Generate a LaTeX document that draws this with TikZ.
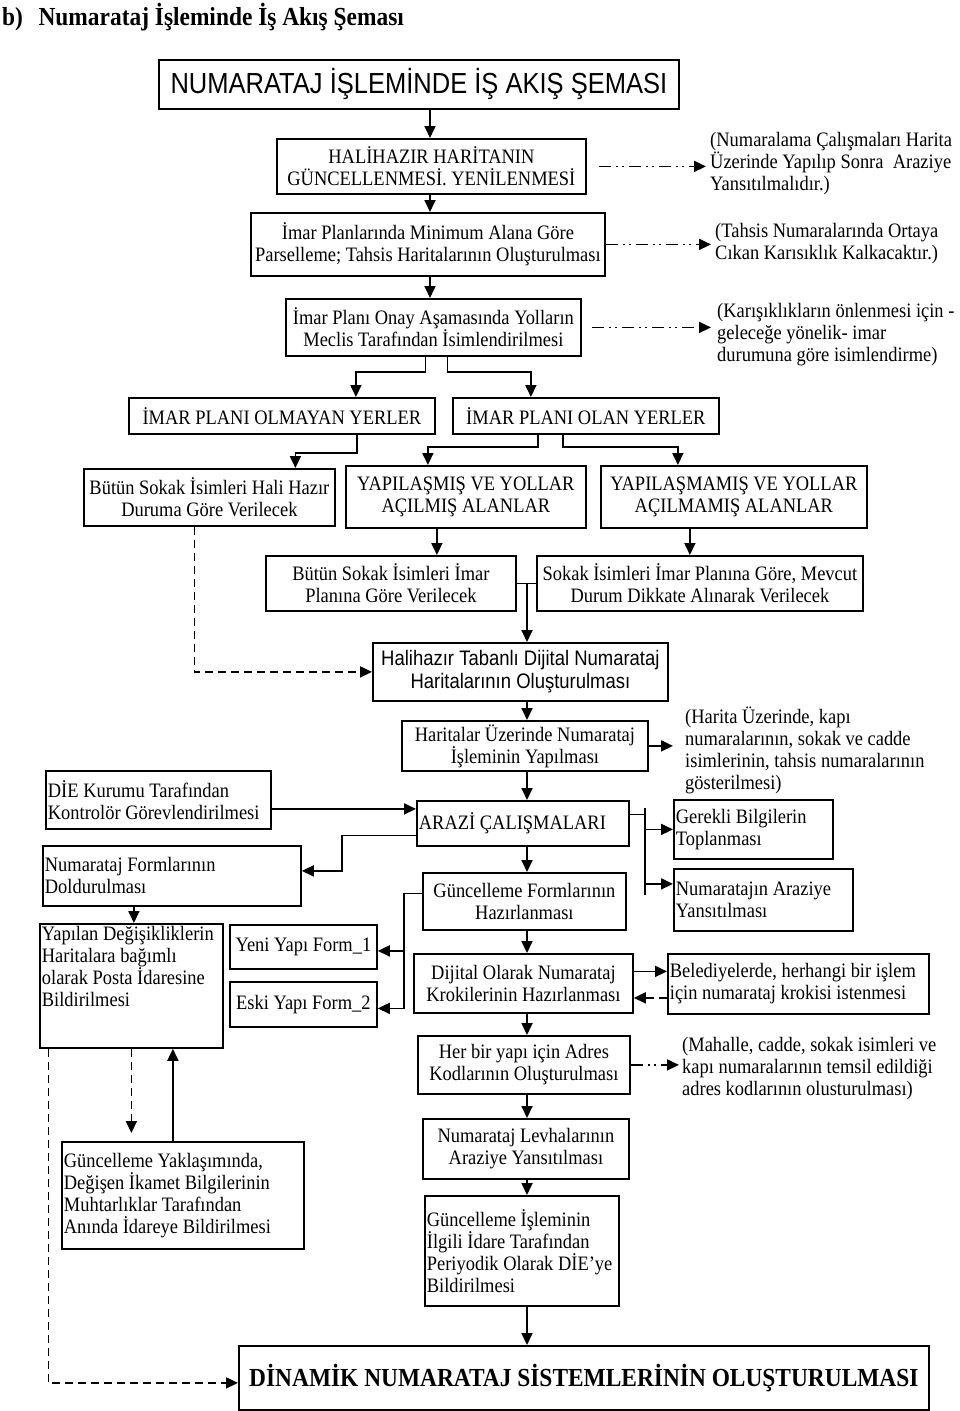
\documentclass[tikz,border=0pt]{standalone}
\usepackage{fontspec}
\usepackage{tikz}
\usetikzlibrary{arrows.meta,calc}
\newfontfamily\bodyfont{Liberation Serif}[FakeStretch=0.9]
\newfontfamily\narrowsans{Liberation Sans}[FakeStretch=0.88]

\begin{document}
\begin{tikzpicture}[x=1pt, y=-1pt,
		flowbox/.style={draw, line width=1.8pt, inner sep=2pt, anchor=north west, align=center,
			font=\bodyfont\fontsize{20.5}{22}\selectfont},
		leftbox/.style={flowbox, align=flush left},
		sidenote/.style={anchor=west, align=flush left, inner sep=0pt,
			font=\bodyfont\fontsize{20.5}{22}\selectfont},
		arr/.style={line width=1.8pt, -{Triangle[length=12pt,width=11pt]}},
		dasharr/.style={arr, dash pattern=on 8pt off 5pt},
		dotarr/.style={arr, dash pattern=on 12pt off 5pt on 2pt off 4pt on 2pt off 5pt}
		]
		\useasboundingbox (0,0) rectangle (960,1411);
		
		\node[anchor=west, inner sep=0pt, font=\bodyfont\bfseries\fontsize{26}{28}\selectfont] (heading) at (2,17) {b)\hspace{0.6em}Numarataj İşleminde İş Akış Şeması};
		\node[flowbox, minimum width=520pt, minimum height=49pt, font=\narrowsans\fontsize{29}{32}\selectfont] (title) at (158,59) {NUMARATAJ İŞLEMİNDE İŞ AKIŞ ŞEMASI};
		
		% upper part
		\node[flowbox, minimum width=309pt, minimum height=55pt] (hali) at (276,138) {HALİHAZIR HARİTANIN\\GÜNCELLENMESİ. YENİLENMESİ};
		\node[flowbox, minimum width=354pt, minimum height=63pt] (imar) at (250,212) {İmar Planlarında Minimum Alana Göre\\Parselleme; Tahsis Haritalarının Oluşturulması};
		\node[flowbox, minimum width=295pt, minimum height=57pt] (onay) at (285,298) {İmar Planı Onay Aşamasında Yolların\\Meclis Tarafından İsimlendirilmesi};
		\node[sidenote] (note1) at (710,164) {(Numaralama Çalışmaları Harita\\Üzerinde Yapılıp Sonra\ \ Araziye\\Yansıtılmalıdır.)};
		\node[sidenote] (note2) at (715,244) {(Tahsis Numaralarında Ortaya\\Cıkan Karısıklık Kalkacaktır.)};
		\node[sidenote] (note3) at (717,335) {(Karışıklıkların önlenmesi için -\\geleceğe yönelik- imar\\durumuna göre isimlendirme)};
		
		\node[flowbox, minimum width=306pt, minimum height=36pt] (olmayan) at (128,397) {İMAR PLANI OLMAYAN YERLER};
		\node[flowbox, minimum width=266pt, minimum height=36pt] (olan) at (452,397) {İMAR PLANI OLAN YERLER};
		\node[flowbox, minimum width=251pt, minimum height=57pt] (halihazir) at (83,468) {Bütün Sokak İsimleri Hali Hazır\\Duruma Göre Verilecek};
		\node[flowbox, minimum width=240pt, minimum height=62pt] (yapilmis) at (345,465) {YAPILAŞMIŞ VE YOLLAR\\AÇILMIŞ ALANLAR};
		\node[flowbox, minimum width=266pt, minimum height=62pt] (yapilmamis) at (600,465) {YAPILAŞMAMIŞ VE YOLLAR\\AÇILMAMIŞ ALANLAR};
		\node[flowbox, minimum width=250pt, minimum height=55pt] (imargore) at (265,555) {Bütün Sokak İsimleri İmar\\Planına Göre Verilecek};
		\node[flowbox, minimum width=326pt, minimum height=55pt] (mevcut) at (536,555) {Sokak İsimleri İmar Planına Göre, Mevcut\\Durum Dikkate Alınarak Verilecek};
		
		% middle column
		\node[flowbox, minimum width=295pt, minimum height=58pt, font=\narrowsans\fontsize{21}{23}\selectfont] (tabanli) at (372,642) {Halihazır Tabanlı Dijital Numarataj\\Haritalarının Oluşturulması};
		\node[flowbox, minimum width=246pt, minimum height=50pt] (uzerinde) at (401,720) {Haritalar Üzerinde Numarataj\\İşleminin Yapılması};
		\node[sidenote] (note4) at (685,750) {(Harita Üzerinde, kapı\\numaralarının, sokak ve cadde\\isimlerinin, tahsis numaralarının\\gösterilmesi)};
		\node[leftbox, text width=208pt, minimum height=45pt] (arazi) at (416,800) {ARAZİ ÇALIŞMALARI};
		\node[flowbox, minimum width=203pt, minimum height=57pt] (guncform) at (422,872) {Güncelleme Formlarının\\Hazırlanması};
		\node[flowbox, minimum width=219pt, minimum height=59pt] (dijital) at (413,953) {Dijital Olarak Numarataj\\Krokilerinin Hazırlanması};
		\node[flowbox, minimum width=212pt, minimum height=58pt] (adres) at (417,1035) {Her bir yapı için Adres\\Kodlarının Oluşturulması};
		\node[sidenote] (note5) at (682,1069) {(Mahalle, cadde, sokak isimleri ve\\kapı numaralarının temsil edildiği\\adres kodlarının olusturulması)};
		\node[flowbox, minimum width=206pt, minimum height=60pt] (levha) at (422,1118) {Numarataj Levhalarının\\Araziye Yansıtılması};
		\node[leftbox, text width=190pt, minimum height=110pt] (periyodik) at (424,1195) {Güncelleme İşleminin\\İlgili İdare Tarafından\\Periyodik Olarak DİE’ye\\Bildirilmesi};
		\node[flowbox, minimum width=690pt, minimum height=64pt, font=\bodyfont\bfseries\fontsize{26}{28}\selectfont] (dinamik) at (238,1345) {DİNAMİK NUMARATAJ SİSTEMLERİNİN OLUŞTURULMASI};
		
		% left and right side
		\node[leftbox, text width=221pt, minimum height=58pt] (die) at (45,770) {DİE Kurumu Tarafından\\Kontrolör Görevlendirilmesi};
		\node[leftbox, text width=254pt, minimum height=60pt] (formlar) at (42,845) {Numarataj Formlarının\\Doldurulması};
		\node[flowbox, minimum width=147pt, minimum height=44pt] (yeni) at (229,924) {Yeni Yapı Form\_1};
		\node[flowbox, minimum width=147pt, minimum height=45pt] (eski) at (229,981) {Eski Yapı Form\_2};
		\node[flowbox] (yapilan) at (39,923) {\parbox[t][120pt][t]{179pt}{\raggedright Yapılan Değişikliklerin\\Haritalara bağımlı\\olarak Posta İdaresine\\Bildirilmesi}};
		\node[leftbox, text width=238pt, minimum height=107pt] (yaklasim) at (61,1141) {Güncelleme Yaklaşımında,\\Değişen İkamet Bilgilerinin\\Muhtarlıklar Tarafından\\Anında İdareye Bildirilmesi};
		\node[leftbox, text width=155pt, minimum height=59pt] (gerekli) at (673,799) {Gerekli Bilgilerin\\Toplanması};
		\node[leftbox, text width=175pt, minimum height=62pt] (araziye) at (673,868) {Numaratajın Araziye\\Yansıtılması};
		\node[leftbox, text width=257pt, minimum height=60pt] (belediye) at (667,953) {Belediyelerde, herhangi bir işlem\\için numarataj krokisi istenmesi};
		
		\coordinate (topaxis) at (430,0);
		\coordinate (midaxis) at (527,0);
		\coordinate (rbus) at (645,808);
		\coordinate (rbusend) at (645,895);
		
		% connectors, top
		\draw[arr] (topaxis |- title.south) -- (topaxis |- hali.north);
		\draw[arr] (topaxis |- hali.south) -- (topaxis |- imar.north);
		\draw[arr] (topaxis |- imar.south) -- (topaxis |- onay.north);
		\draw[dotarr] ([xshift=12pt]hali.east) -- ([xshift=-4pt]note1.west |- hali.east);
		\draw[dotarr] (imar.east) -- ([xshift=-4pt]note2.west |- imar.east);
		\draw[dotarr] ([xshift=10pt]onay.east) -- ([xshift=-6pt]note3.west |- onay.east);
		\draw[arr] ([xshift=-8pt]onay.south) -- ++(0,15) -| ([xshift=74pt]olmayan.north);
		\draw[arr] ([xshift=14pt]onay.south) -- ++(0,15) -| ([xshift=-55pt]olan.north);
		\draw[arr] ([xshift=75pt]olmayan.south) -- ++(0,18) -| ([xshift=86pt]halihazir.north);
		\draw[arr] ([xshift=-48pt]olan.south) -- ++(0,12) -| ([xshift=-38pt]yapilmis.north);
		\draw[arr] ([xshift=-23pt]olan.south) -- ++(0,12) -| ([xshift=-56pt]yapilmamis.north);
		\draw[arr] ([xshift=-29pt]yapilmis.south) -- ([xshift=-29pt]yapilmis.south |- imargore.north);
		\draw[arr] ([xshift=-44pt]yapilmamis.south) -- ([xshift=-44pt]yapilmamis.south |- mevcut.north);
		\draw[line width=1.8pt] (imargore.east) -- (mevcut.west);
		\draw[arr] (midaxis |- imargore.east) -- (midaxis |- tabanli.north);
		\draw[dasharr] ([xshift=-15pt]halihazir.south) |- (tabanli.west);
		
		% connectors, middle
		\draw[arr] (midaxis |- tabanli.south) -- (midaxis |- uzerinde.north);
		\draw[arr] (uzerinde.east) -- ($(note4.west |- uzerinde.east)+(-12,0)$);
		\draw[arr] (midaxis |- uzerinde.south) -- (midaxis |- arazi.north);
		\draw[arr] ([yshift=-9pt]die.east) -- ([yshift=-9pt]die.east -| arazi.west);
		\draw[arr] ([yshift=-12pt]arazi.west) -| ([xshift=40pt,yshift=5pt]formlar.east) -- ([yshift=5pt]formlar.east);
		\draw[arr] (midaxis |- arazi.south) -- (midaxis |- guncform.north);
		\draw[line width=1.8pt] ([yshift=9pt]arazi.east) -- ([yshift=9pt]arazi.east -| rbus);
		\draw[line width=1.8pt] (rbus) -- (rbusend);
		\draw[arr] (rbus |- gerekli.west) -- (gerekli.west);
		\draw[arr] ([yshift=16pt]rbus |- araziye.west) -- ([yshift=16pt]araziye.west);
		\draw[arr] ([yshift=8pt]guncform.west) -| ([xshift=26pt,yshift=-4pt]eski.east) -- ([yshift=-4pt]eski.east);
		\draw[arr] ([xshift=26pt,yshift=-4pt]yeni.east) -- ([yshift=-4pt]yeni.east);
		\draw[arr] (midaxis |- guncform.south) -- (midaxis |- dijital.north);
		\draw[arr] ([yshift=12pt]dijital.east) -- ([yshift=12pt]dijital.east -| belediye.west);
		\draw[dasharr] ([yshift=-14pt]belediye.west) -- ([yshift=-14pt]belediye.west -| dijital.east);
		\draw[arr] (midaxis |- dijital.south) -- (midaxis |- adres.north);
		\draw[dotarr] (adres.east) -- ($(note5.west |- adres.east)+(-3,0)$);
		\draw[arr] (midaxis |- adres.south) -- (midaxis |- levha.north);
		\draw[arr] (midaxis |- levha.south) -- (midaxis |- periyodik.north);
		\draw[arr] (midaxis |- periyodik.south) -- (midaxis |- dinamik.north);
		
		% connectors, left
		\draw[arr] ([xshift=-38pt]formlar.south) -- ([xshift=-38pt]formlar.south |- yapilan.north);
		\draw[dasharr] (yapilan.south) -- ($(yapilan.south |- yaklasim.north)+(0,-8)$);
		\draw[arr] ([xshift=-10pt]yaklasim.north) -- ([xshift=-10pt]yaklasim.north |- yapilan.south);
		\draw[dasharr] ([xshift=-83pt]yapilan.south) |- ([yshift=-5pt]dinamik.west);
\end{tikzpicture}
\end{document}
